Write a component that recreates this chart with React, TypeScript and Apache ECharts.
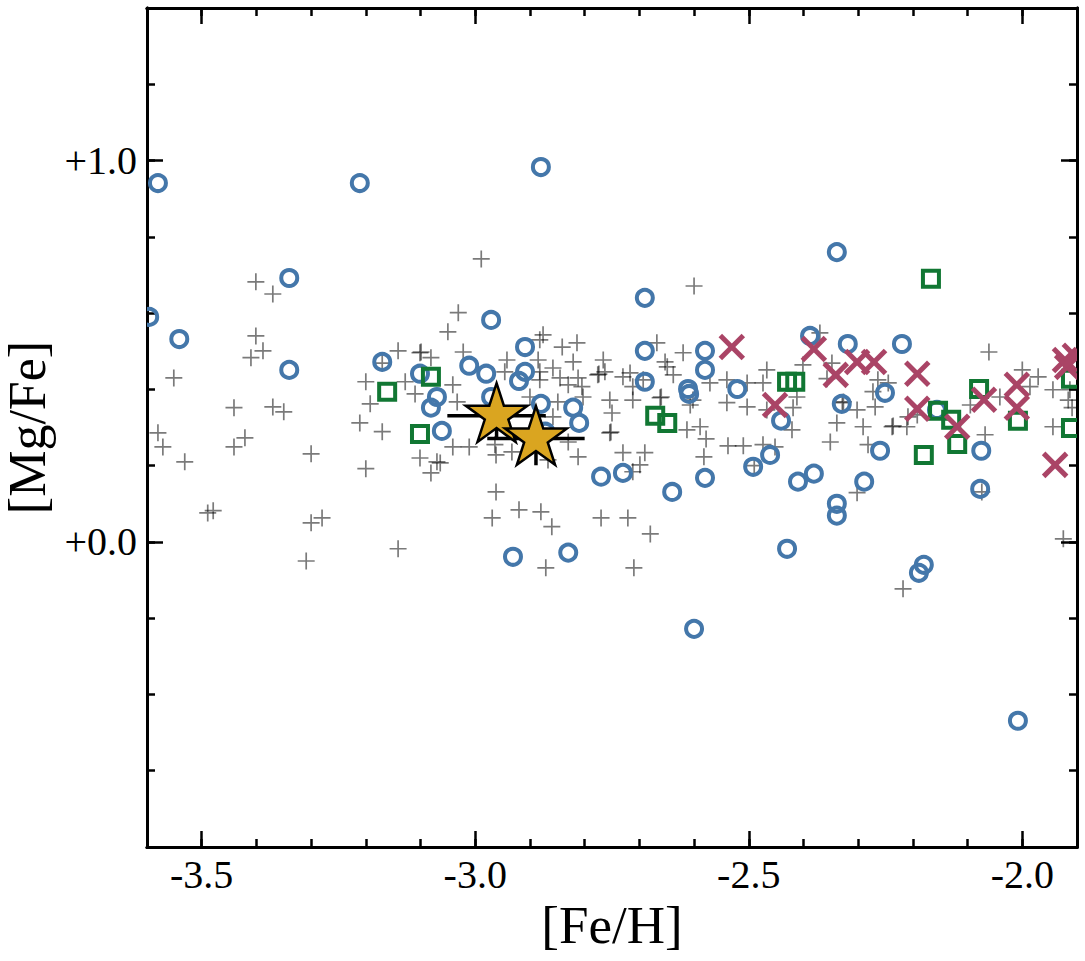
import React, { useEffect, useRef } from 'react';
import * as echarts from 'echarts';

const X_MIN = -3.6;
const X_MAX = -1.9;
const Y_MIN = -0.8;
const Y_MAX = 1.4;
const X_MAJOR = [-3.5, -3.0, -2.5, -2.0];
const X_MINOR = [-3.5, -3.4, -3.3, -3.2, -3.1, -3.0, -2.9, -2.8, -2.7, -2.6, -2.5, -2.4, -2.3, -2.2, -2.1, -2.0];
const Y_MAJOR = [0, 1];
const Y_MINOR = [-0.6, -0.4, -0.2, 0, 0.2, 0.4, 0.6, 0.8, 1.0, 1.2];

const X_TITLE = '[Fe/H]';
const Y_TITLE = '[Mg/Fe]';

// comparison sample (grey plus signs)
const comparison: number[][] = [
  [-3.401, 0.682], [-3.370, 0.650], [-3.401, 0.540], [-3.388, 0.501], [-3.410, 0.483], [-3.551, 0.430],
  [-3.441, 0.352], [-3.370, 0.354], [-3.350, 0.341], [-3.580, 0.286], [-3.571, 0.249], [-3.531, 0.210],
  [-3.441, 0.249], [-3.421, 0.273], [-3.300, 0.231], [-3.489, 0.076], [-3.479, 0.082], [-3.300, 0.050],
  [-3.280, 0.063], [-3.141, -0.018], [-3.309, -0.050], [-3.141, 0.501], [-3.101, 0.496], [-3.099, 0.498],
  [-3.081, 0.483], [-3.170, 0.469], [-3.200, 0.420], [-3.128, 0.420], [-3.110, 0.388], [-3.192, 0.362],
  [-3.211, 0.312], [-3.170, 0.289], [-3.101, 0.220], [-3.070, 0.210], [-3.081, 0.181], [-3.200, 0.192],
  [-2.989, 0.742], [-3.031, 0.601], [-3.050, 0.551], [-3.022, 0.498], [-2.942, 0.477], [-2.876, 0.543],
  [-2.882, 0.530], [-2.841, 0.511], [-2.814, 0.522], [-2.885, 0.477], [-2.821, 0.472], [-2.766, 0.477],
  [-2.946, 0.446], [-2.858, 0.456], [-2.882, 0.446], [-2.776, 0.438], [-2.774, 0.440], [-2.763, 0.446],
  [-3.041, 0.412], [-2.845, 0.430], [-2.812, 0.430], [-2.830, 0.412], [-2.882, 0.425], [-2.805, 0.407],
  [-2.803, 0.380], [-2.900, 0.380], [-2.849, 0.367], [-2.754, 0.372], [-3.033, 0.367], [-2.858, 0.328],
  [-2.754, 0.286], [-2.752, 0.288], [-3.041, 0.249], [-3.011, 0.249], [-2.964, 0.255], [-2.962, 0.228],
  [-2.933, 0.236], [-2.830, 0.262], [-2.812, 0.223], [-2.867, 0.215], [-3.064, 0.207], [-2.962, 0.131],
  [-2.969, 0.063], [-2.920, 0.084], [-2.880, 0.079], [-2.860, 0.040], [-2.770, 0.063], [-2.871, -0.068],
  [-2.750, 0.338],
  [-2.600, 0.671], [-2.668, 0.522], [-2.620, 0.496], [-2.653, 0.472], [-2.649, 0.459], [-2.638, 0.438],
  [-2.717, 0.443], [-2.730, 0.433], [-2.693, 0.425], [-2.712, 0.407], [-2.712, 0.372], [-2.662, 0.378],
  [-2.660, 0.380], [-2.607, 0.359], [-2.602, 0.372], [-2.571, 0.417], [-2.540, 0.425], [-2.503, 0.417],
  [-2.540, 0.365], [-2.503, 0.354], [-2.474, 0.417], [-2.467, 0.451], [-2.613, 0.294], [-2.589, 0.302],
  [-2.578, 0.270], [-2.538, 0.252], [-2.510, 0.252], [-2.582, 0.223], [-2.730, 0.234], [-2.690, 0.234],
  [-2.699, 0.202], [-2.712, 0.184], [-2.490, 0.200], [-2.721, 0.063], [-2.680, 0.021], [-2.710, -0.068],
  [-2.370, 0.548], [-2.401, 0.464], [-2.348, 0.469], [-2.357, 0.428], [-2.412, 0.380], [-2.419, 0.352],
  [-2.421, 0.294], [-2.467, 0.346], [-2.452, 0.249], [-2.474, 0.255], [-2.329, 0.365], [-2.327, 0.367],
  [-2.302, 0.346], [-2.269, 0.354], [-2.273, 0.394], [-2.264, 0.425], [-2.245, 0.417], [-2.291, 0.302],
  [-2.238, 0.302], [-2.236, 0.304], [-2.211, 0.302], [-2.339, 0.312], [-2.351, 0.262], [-2.282, 0.255],
  [-2.302, 0.129], [-2.209, 0.328], [-2.218, -0.123],
  [-2.061, 0.498], [-2.000, 0.451], [-1.971, 0.433], [-1.986, 0.407], [-1.944, 0.399], [-1.913, 0.399],
  [-2.041, 0.380], [-2.095, 0.359], [-1.916, 0.372], [-1.909, 0.352], [-1.944, 0.302], [-2.068, 0.281],
  [-2.192, 0.333], [-2.074, 0.131], [-1.925, 0.008],
];

// blue open circles
const circleStars: number[][] = [
  [-3.596, 0.590], [-3.580, 0.941], [-3.541, 0.532], [-3.340, 0.692], [-3.340, 0.451], [-3.211, 0.941],
  [-3.170, 0.472], [-3.101, 0.441], [-3.070, 0.380], [-3.081, 0.352], [-3.061, 0.291], [-3.011, 0.462],
  [-2.980, 0.441], [-2.971, 0.582], [-2.909, 0.511], [-2.909, 0.446], [-2.920, 0.422], [-2.971, 0.380],
  [-2.880, 0.983], [-2.880, 0.362], [-2.821, 0.352], [-2.810, 0.312], [-2.872, 0.289], [-2.770, 0.171],
  [-2.730, 0.181], [-2.931, -0.039], [-2.830, -0.028], [-2.690, 0.640], [-2.690, 0.501], [-2.690, 0.420],
  [-2.640, 0.131], [-2.611, 0.401], [-2.609, 0.388], [-2.580, 0.501], [-2.580, 0.451], [-2.600, -0.228],
  [-2.521, 0.401], [-2.492, 0.197], [-2.580, 0.168], [-2.339, 0.760], [-2.388, 0.540], [-2.319, 0.519],
  [-2.220, 0.519], [-2.251, 0.391], [-2.330, 0.362], [-2.441, 0.318], [-2.156, 0.346], [-2.260, 0.239],
  [-2.075, 0.239], [-2.461, 0.228], [-2.410, 0.158], [-2.381, 0.179], [-2.289, 0.158], [-2.077, 0.139],
  [-2.339, 0.100], [-2.339, 0.069], [-2.430, -0.018], [-2.180, -0.060], [-2.189, -0.081], [-2.008, -0.469],
];

// green open squares
const squareStars: number[][] = [
  [-3.161, 0.394], [-3.081, 0.433], [-3.101, 0.283], [-2.671, 0.331], [-2.649, 0.312], [-2.167, 0.690],
  [-2.430, 0.420], [-2.415, 0.420], [-2.079, 0.401], [-2.154, 0.344], [-2.130, 0.320], [-2.119, 0.257],
  [-2.180, 0.228], [-2.008, 0.318], [-1.911, 0.428], [-1.911, 0.299],
];

// crimson crosses
const crossStars: number[][] = [
  [-2.531, 0.511], [-2.381, 0.506], [-2.341, 0.438], [-2.302, 0.472], [-2.271, 0.472], [-2.452, 0.359],
  [-2.192, 0.441], [-2.192, 0.349], [-2.119, 0.302], [-2.070, 0.373], [-2.010, 0.412], [-2.010, 0.352],
  [-1.922, 0.477], [-1.918, 0.459], [-1.904, 0.488], [-1.940, 0.202],
];

// programme stars: [Fe/H], [Mg/Fe], err[Fe/H], err[Mg/Fe]
const starFeH = [-2.961, -2.889];
const starMgFe = [0.331, 0.271];
const starErrFeH = [0.09, 0.089];
const starErrMgFe = [0.06, 0.07];

const FONT = 'Liberation Serif';
const GREY = 'rgba(0,0,0,0.52)';
const BLUE = '#4477AA';
const GREEN = '#117733';
const CRIMSON = '#AA4466';
const GOLD = '#DAA520';

let shapesRegistered = false;
function registerShapes() {
  if (shapesRegistered) return;
  echarts.graphic.registerShape('plusMark', echarts.graphic.extendPath('M-8.5,0L8.5,0M0,-8.5L0,8.5', {}) as any);
  shapesRegistered = true;
}

const plusItem = (params: any, api: any) => {
  const p = api.coord([api.value(0), api.value(1)]);
  return {
    type: 'plusMark',
    x: p[0],
    y: p[1],
    style: { stroke: GREY, lineWidth: 1.7, fill: null },
  };
};

const circleItem = (params: any, api: any) => {
  const p = api.coord([api.value(0), api.value(1)]);
  return {
    type: 'circle',
    shape: { cx: p[0], cy: p[1], r: 8 },
    style: { fill: null, stroke: BLUE, lineWidth: 4 },
  };
};

const squareItem = (params: any, api: any) => {
  const p = api.coord([api.value(0), api.value(1)]);
  const h = 8;
  return {
    type: 'rect',
    shape: { x: p[0] - h, y: p[1] - h, width: 2 * h, height: 2 * h },
    style: { fill: null, stroke: GREEN, lineWidth: 4 },
  };
};

const xItem = (params: any, api: any) => {
  const p = api.coord([api.value(0), api.value(1)]);
  const h = 11.5;
  const style = { stroke: CRIMSON, lineWidth: 5, fill: null };
  return {
    type: 'group',
    children: [
      { type: 'line', shape: { x1: p[0] - h, y1: p[1] - h, x2: p[0] + h, y2: p[1] + h }, style },
      { type: 'line', shape: { x1: p[0] - h, y1: p[1] + h, x2: p[0] + h, y2: p[1] - h }, style },
    ],
  };
};

const errItem = (params: any, api: any) => {
  const x = api.value(0);
  const y = api.value(1);
  const ex = api.value(2);
  const ey = api.value(3);
  const l = api.coord([x - ex, y]);
  const r = api.coord([x + ex, y]);
  const t = api.coord([x, y + ey]);
  const b = api.coord([x, y - ey]);
  const style = { stroke: '#000', lineWidth: 3.5 };
  return {
    type: 'group',
    children: [
      { type: 'line', shape: { x1: l[0], y1: l[1], x2: r[0], y2: r[1] }, style },
      { type: 'line', shape: { x1: t[0], y1: t[1], x2: b[0], y2: b[1] }, style },
    ],
  };
};

const starItem = (params: any, api: any) => {
  const c = api.coord([api.value(0), api.value(1)]);
  const R = 32.5;
  const r = R * 0.382;
  const pts: number[][] = [];
  for (let k = 0; k < 10; k++) {
    const rad = k % 2 === 0 ? R : r;
    const a = (k * 36 * Math.PI) / 180;
    pts.push([c[0] + rad * Math.sin(a), c[1] - rad * Math.cos(a)]);
  }
  return {
    type: 'polygon',
    shape: { points: pts },
    style: { fill: GOLD, stroke: '#000', lineWidth: 2.5, lineJoin: 'miter' },
  };
};

export default function App() {
  const ref = useRef<HTMLDivElement>(null);

  useEffect(() => {
    if (!ref.current) return;
    document.body.style.margin = '0';
    registerShapes();
    const chart = echarts.init(ref.current, null, { renderer: 'svg' });

    const axisLine = { show: true, onZero: false, lineStyle: { color: '#000', width: 3 } };
    const tickLine = { color: '#000', width: 2.5 };
    const xBase = { type: 'value', min: X_MIN, max: X_MAX, gridIndex: 0, splitLine: { show: false }, axisLine };
    const yBase = { type: 'value', min: Y_MIN, max: Y_MAX, gridIndex: 0, splitLine: { show: false }, axisLine };

    const errData = starFeH.map((v, i) => [v, starMgFe[i], starErrFeH[i], starErrMgFe[i]]);
    const starData = starFeH.map((v, i) => [v, starMgFe[i]]);

    const option: any = {
      animation: false,
      backgroundColor: '#fff',
      grid: { left: 147, right: 8, top: 8, bottom: 114, containLabel: false, outerBoundsMode: 'none' },
      xAxis: [
        {
          ...xBase,
          position: 'bottom',
          axisTick: { show: true, inside: true, length: 16, lineStyle: tickLine, customValues: X_MAJOR },
          axisLabel: {
            show: true,
            customValues: X_MAJOR,
            formatter: (v: number) => v.toFixed(1),
            fontFamily: FONT,
            fontSize: 40,
            color: '#000',
            margin: 7,
          },
          name: X_TITLE,
          nameLocation: 'middle',
          nameGap: 46,
          nameTextStyle: { fontFamily: FONT, fontSize: 53, color: '#000' },
        },
        {
          ...xBase,
          position: 'bottom',
          axisTick: { show: true, inside: true, length: 8, lineStyle: tickLine, customValues: X_MINOR },
          axisLabel: { show: false },
        },
        {
          ...xBase,
          position: 'top',
          axisTick: { show: true, inside: true, length: 16, lineStyle: tickLine, customValues: X_MAJOR },
          axisLabel: { show: false },
        },
        {
          ...xBase,
          position: 'top',
          axisTick: { show: true, inside: true, length: 8, lineStyle: tickLine, customValues: X_MINOR },
          axisLabel: { show: false },
        },
      ],
      yAxis: [
        {
          ...yBase,
          position: 'left',
          axisTick: { show: true, inside: true, length: 16, lineStyle: tickLine, customValues: Y_MAJOR },
          axisLabel: {
            show: true,
            customValues: Y_MAJOR,
            formatter: (v: number) => (v >= 0 ? '+' : '') + v.toFixed(1),
            fontFamily: FONT,
            fontSize: 40,
            color: '#000',
            margin: 10,
          },
          name: Y_TITLE,
          nameLocation: 'middle',
          nameRotate: 90,
          nameGap: 88,
          nameTextStyle: { fontFamily: FONT, fontSize: 52, color: '#000' },
        },
        {
          ...yBase,
          position: 'left',
          axisTick: { show: true, inside: true, length: 8, lineStyle: tickLine, customValues: Y_MINOR },
          axisLabel: { show: false },
        },
        {
          ...yBase,
          position: 'right',
          axisTick: { show: true, inside: true, length: 16, lineStyle: tickLine, customValues: Y_MAJOR },
          axisLabel: { show: false },
        },
        {
          ...yBase,
          position: 'right',
          axisTick: { show: true, inside: true, length: 8, lineStyle: tickLine, customValues: Y_MINOR },
          axisLabel: { show: false },
        },
      ],
      series: [
        { type: 'custom', name: 'comparison', data: comparison, renderItem: plusItem, clip: true, encode: { x: 0, y: 1 } },
        { type: 'custom', name: 'circles', data: circleStars, renderItem: circleItem, clip: true, encode: { x: 0, y: 1 } },
        { type: 'custom', name: 'squares', data: squareStars, renderItem: squareItem, clip: true, encode: { x: 0, y: 1 } },
        { type: 'custom', name: 'crosses', data: crossStars, renderItem: xItem, clip: true, encode: { x: 0, y: 1 } },
        { type: 'custom', name: 'errors', data: errData, renderItem: errItem, clip: true, encode: { x: 0, y: 1 } },
        { type: 'custom', name: 'stars', data: starData, renderItem: starItem, clip: true, encode: { x: 0, y: 1 } },
      ],
    };

    chart.setOption(option);
    return () => chart.dispose();
  }, []);

  return <div ref={ref} style={{ width: 1085, height: 961 }} />;
}
